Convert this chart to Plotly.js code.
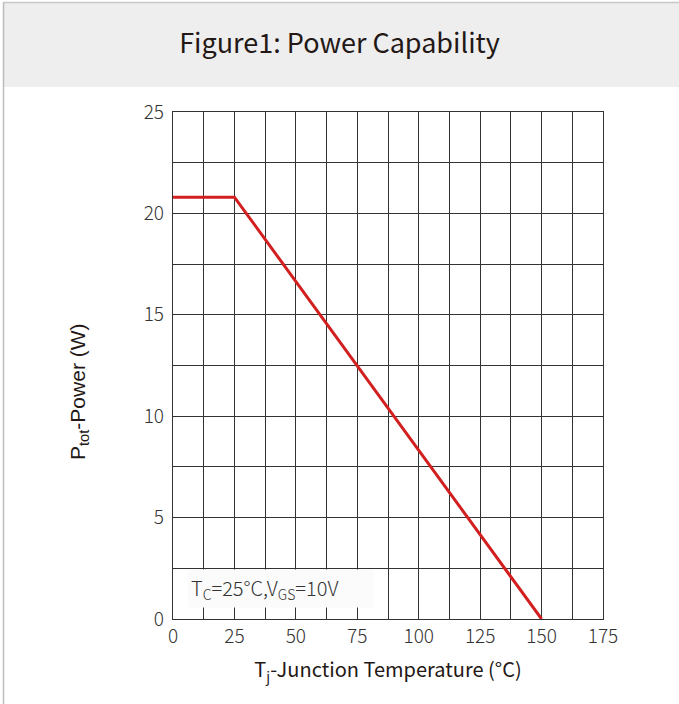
<!DOCTYPE html>
<html>
<head>
<meta charset="utf-8">
<script src="https://cdn.plot.ly/plotly-3.0.1.min.js"></script>
<style>
html,body{margin:0;padding:0;background:#fff;}
#chart{width:679px;height:704px;}
</style>
</head>
<body>
<div id="chart"></div>
<script>
// Data
const tempC = [0, 25, 150];
const powerW = [20.8, 20.8, 0];
const xTickVals = [0, 25, 50, 75, 100, 125, 150, 175];
const yTickVals = [0, 5, 10, 15, 20, 25];

const W = 679, H = 704;
const L = 173, R = 603, T = 112, B = 619;
const pw = R - L, ph = B - T;
const px = v => (v - L) / pw;
const py = v => (B - v) / ph;

const fontFam = '"Noto Sans CJK SC", "Noto Sans", sans-serif';
const arialFam = '"Liberation Sans", Arial, sans-serif';

const trace = {
  x: tempC, y: powerW, type: 'scatter', mode: 'lines',
  line: {color: '#d21f1f', width: 3},
  hoverinfo: 'skip', showlegend: false, cliponaxis: true
};

const axisCommon = {
  showline: true, mirror: true, linecolor: '#333', linewidth: 1.2,
  showgrid: true, gridcolor: '#333', gridwidth: 1,
  zeroline: false, ticks: '',
  tickfont: {family: fontFam, size: 19, color: '#333', weight: 300},
  fixedrange: true
};

const layout = {
  width: W, height: H,
  margin: {l: L, r: W - R, t: T, b: H - B, pad: 0},
  paper_bgcolor: '#ffffff', plot_bgcolor: '#ffffff',
  title: {
    text: 'Figure1: Power Capability',
    font: {family: fontFam, size: 27, color: '#231815', weight: 400},
    x: 0.5, xref: 'container', xanchor: 'center',
    y: 1 - 44 / H, yref: 'container', yanchor: 'middle'
  },
  xaxis: Object.assign({}, axisCommon, {
    range: [0, 175], tickvals: xTickVals, ticktext: xTickVals.map(String),
    minor: {dtick: 12.5, tick0: 0, showgrid: true, gridcolor: '#333', gridwidth: 1},
    title: {text: 'T<sub>j</sub>-Junction Temperature (°C)', standoff: 16,
      font: {family: fontFam, size: 20, color: '#231815'}}
  }),
  yaxis: Object.assign({}, axisCommon, {
    range: [0, 25], tickvals: yTickVals, ticktext: yTickVals.map(String),
    ticklabelstandoff: 4,
    minor: {dtick: 2.5, tick0: 0, showgrid: true, gridcolor: '#333', gridwidth: 1}
  }),
  shapes: [
    {type: 'rect', xref: 'paper', yref: 'paper', layer: 'below',
     x0: px(3), x1: px(W + 5), y0: py(87), y1: py(2.5),
     fillcolor: '#eeeeee', line: {width: 0}},
    {type: 'line', xref: 'paper', yref: 'paper',
     x0: px(3), x1: px(W + 5), y0: py(2.5), y1: py(2.5),
     line: {color: '#c8c8c8', width: 1.5}},
    {type: 'line', xref: 'paper', yref: 'paper',
     x0: px(3.5), x1: px(3.5), y0: py(2.5), y1: py(H + 5),
     line: {color: '#bdbdbd', width: 1.5}}
  ],
  annotations: [
    // y-axis title
    {text: 'P<sub>tot</sub>-Power (W)', xref: 'paper', yref: 'paper',
     x: px(79), y: py(392), xanchor: 'center', yanchor: 'middle', textangle: -90,
     showarrow: false,
     font: {family: arialFam, size: 21, color: '#231815'}},
    // condition label
    {text: 'T<sub>C</sub>=25°C,V<sub>GS</sub>=10V', xref: 'paper', yref: 'paper',
     x: px(187), y: py(588), xanchor: 'left', yanchor: 'middle',
     showarrow: false, bgcolor: '#fbfbfb', borderpad: 3, width: 179, align: 'left',
     font: {family: fontFam, size: 20, color: '#333', weight: 300}}
  ]
};

Plotly.newPlot('chart', [trace], layout, {displayModeBar: false, staticPlot: true});
</script>
</body>
</html>
